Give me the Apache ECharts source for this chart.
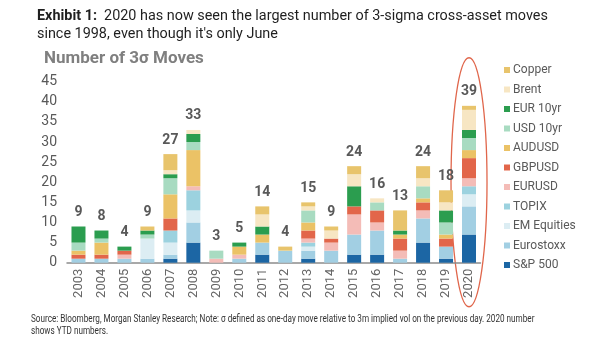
<!DOCTYPE html>
<html>
<head>
<meta charset="utf-8">
<script src="https://cdn.jsdelivr.net/npm/echarts@6/dist/echarts.min.js"></script>
<style>
  html, body { margin: 0; padding: 0; background: #fff; }
  #chart { width: 605px; height: 341px; }
</style>
</head>
<body>
<div id="chart"></div>
<script>
// Years on the category axis
const years = ['2003','2004','2005','2006','2007','2008','2009','2010','2011','2012',
               '2013','2014','2015','2016','2017','2018','2019','2020'];

// Count of 3-sigma moves per asset, per year
const sp500     = [0,0,0,0,1,5,0,0,2,0,1,0,2,2,0,5,1,7];
const eurostoxx = [1,1,1,1,1,5,0,1,3,3,2,3,5,6,1,6,3,7];
const emEquities= [0,0,0,5,3,3,0,0,0,0,1,0,0,0,0,0,0,3];
const topix     = [0,0,0,0,3,5,0,0,0,0,1,0,0,0,0,0,0,2];
const eurusd    = [0,0,1,0,0,1,1,1,0,0,1,2,5,2,2,2,0,2];
const gbpusd    = [1,1,1,0,3,0,0,0,0,0,2,1,2,3,3,2,2,5];
const audusd    = [1,3,0,0,6,9,0,2,2,0,2,0,0,0,1,1,1,2];
const usd10yr   = [2,1,0,1,4,2,2,0,0,0,3,0,0,2,0,3,3,3];
const eur10yr   = [4,2,1,1,1,2,0,1,2,0,0,0,5,0,1,0,3,2];
const brent     = [0,0,0,0,1,1,0,0,3,0,1,2,3,1,0,2,2,5];
const copper    = [0,0,0,1,4,0,0,0,2,1,1,1,2,0,5,3,3,1];

// Totals printed above each column
const totals = [9,8,4,9,27,33,3,5,14,4,15,9,24,16,13,24,18,39];

// Y axis ticks
const yMax = 45, yStep = 5;

// Stack order, bottom to top
const stack = [
  { name: 'S&P 500',     data: sp500,      color: '#1c66a4' },
  { name: 'Eurostoxx',   data: eurostoxx,  color: '#a2cfe3' },
  { name: 'EM Equities', data: emEquities, color: '#dcedf3' },
  { name: 'TOPIX',       data: topix,      color: '#9cd2df' },
  { name: 'EURUSD',      data: eurusd,     color: '#f4bcb7' },
  { name: 'GBPUSD',      data: gbpusd,     color: '#e2664a' },
  { name: 'AUDUSD',      data: audusd,     color: '#ebc266' },
  { name: 'USD 10yr',    data: usd10yr,    color: '#a8dbc1' },
  { name: 'EUR 10yr',    data: eur10yr,    color: '#2b9d4f' },
  { name: 'Brent',       data: brent,      color: '#f7e6c3' },
  { name: 'Copper',      data: copper,     color: '#e8c46c' }
];

const FONT = 'Roboto, "Liberation Sans", sans-serif';
const chart = echarts.init(document.getElementById('chart'), null, { renderer: 'canvas' });

const series = stack.map(s => ({
  name: s.name,
  type: 'bar',
  stack: 'moves',
  barWidth: 14,
  itemStyle: { color: s.color },
  emphasis: { disabled: true },
  data: s.data
}));

// Zero-height cap carrying the total label at the top of each stack
series.push({
  name: 'total',
  type: 'bar',
  stack: 'moves',
  barWidth: 14,
  silent: true,
  itemStyle: { color: 'transparent' },
  label: {
    show: true,
    position: 'top',
    distance: 7,
    fontFamily: FONT,
    fontSize: 14,
    fontWeight: 'bold',
    color: '#595959',
    formatter: p => String(totals[p.dataIndex])
  },
  data: years.map(() => 0)
});

chart.setOption({
  animation: false,
  backgroundColor: '#ffffff',
  grid: { left: 67, right: 124.5, top: 81.7, bottom: 78.3, containLabel: false },
  legend: {
    orient: 'vertical',
    left: 499,
    top: 58,
    icon: 'rect',
    itemWidth: 6,
    itemHeight: 6,
    itemGap: 5.5,
    selectedMode: false,
    textStyle: { fontFamily: FONT, fontSize: 12, color: '#595959', lineHeight: 14, padding: [0, 0, 0, -2] },
    data: stack.map(s => s.name).reverse()
  },
  xAxis: {
    type: 'category',
    data: years,
    axisLine: { lineStyle: { color: '#8c8c8c', width: 1.5 } },
    axisTick: { show: false },
    axisLabel: { rotate: 90, margin: 6, fontFamily: FONT, fontSize: 13, color: '#666666' }
  },
  yAxis: {
    type: 'value',
    min: 0,
    max: yMax,
    interval: yStep,
    axisLine: { show: false },
    axisTick: { show: false },
    splitLine: { show: false },
    axisLabel: { margin: 10, fontFamily: FONT, fontSize: 14, color: '#595959' }
  },
  series: series
});

// Highlight ring around the latest year, placed from the axis scales
const cx = chart.convertToPixel({ xAxisIndex: 0 }, '2020');
const cy = chart.convertToPixel({ yAxisIndex: 0 }, 20);

chart.setOption({
  graphic: [
    {
      id: 'headline',
      type: 'text', left: 37, top: 7,
      style: {
        text: '{b|Exhibit 1:}  2020 has now seen the largest number of 3-sigma cross-asset moves\nsince 1998, even though it\'s only June',
        font: '14.4px ' + FONT,
        fill: '#1f1f1f',
        lineHeight: 18,
        rich: { b: { fontWeight: 'bold', fontSize: 14.4, fontFamily: FONT, fill: '#1f1f1f', lineHeight: 18 } }
      }
    },
    {
      id: 'subhead',
      type: 'text', left: 44, top: 50,
      style: { text: 'Number of 3σ Moves', font: 'bold 17px ' + FONT, fill: '#7f7f7f' }
    },
    {
      id: 'footnote',
      type: 'text', x: 31, y: 313, scaleX: 0.815,
      style: {
        text: 'Source: Bloomberg, Morgan Stanley Research; Note: σ defined as one-day move relative to 3m implied vol on the previous day. 2020 number\nshows YTD numbers.',
        font: '10px ' + FONT,
        fill: '#333333',
        lineHeight: 12.5
      }
    },
    {
      id: 'ring',
      type: 'ellipse',
      shape: { cx: cx, cy: cy, rx: 18, ry: 124.5 },
      style: { fill: 'none', stroke: '#e0664b', lineWidth: 1.3 },
      silent: true
    }
  ]
});
</script>
</body>
</html>
